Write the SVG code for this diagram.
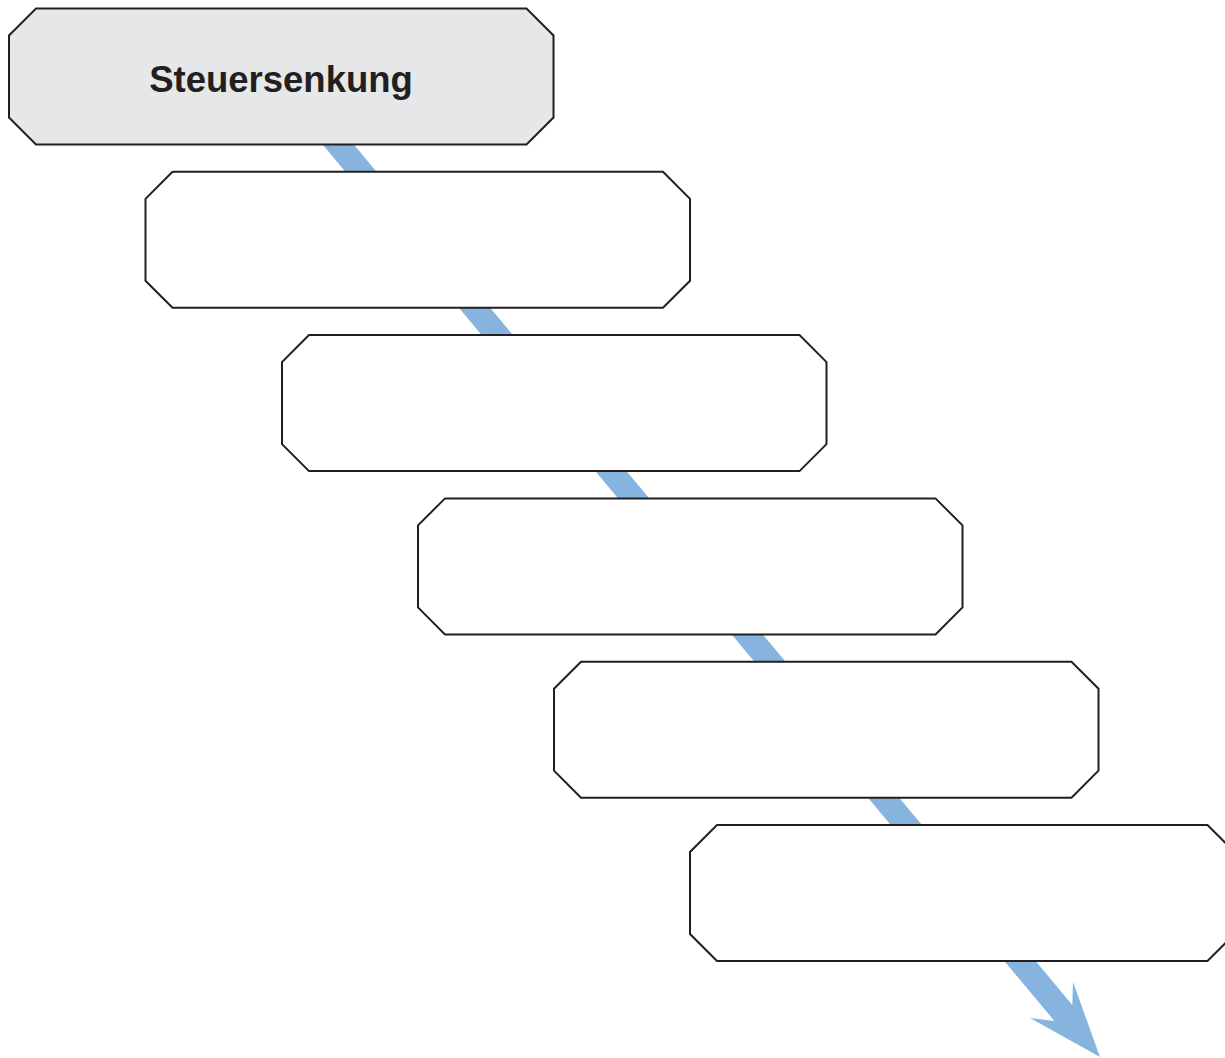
<svg xmlns="http://www.w3.org/2000/svg" width="1225" height="1058" viewBox="0 0 1225 1058">
<style>
.node{fill:#ffffff;stroke:#231f20;stroke-width:2;stroke-linejoin:miter}
.first{fill:#e6e7e8}
.lbl{font-family:"Liberation Sans",Arial,sans-serif;font-weight:bold;font-size:36.5px;fill:#231f20}
.conn{fill:#86b4de;stroke:none}
</style>
<defs>
<polygon id="oct" points="27,0 517.5,0 544.5,27 544.5,109 517.5,136 27,136 0,109 0,27"/>
</defs>
<rect width="1225" height="1058" fill="#ffffff"/>
<g id="connectors">
<polygon class="conn" points="265.4,76 296.6,76 1072.3,1005 1073,982 1100,1057 1030,1018 1054.4,1021"/>
</g>
<g id="node1">
<use href="#oct" class="node first" x="9" y="8.5"/>
<text class="lbl" x="281" y="92" text-anchor="middle">Steuersenkung</text>
</g>
<g id="node2"><use href="#oct" class="node" x="145.5" y="171.8"/></g>
<g id="node3"><use href="#oct" class="node" x="282" y="335.1"/></g>
<g id="node4"><use href="#oct" class="node" x="418" y="498.4"/></g>
<g id="node5"><use href="#oct" class="node" x="554" y="661.7"/></g>
<g id="node6"><use href="#oct" class="node" x="690" y="825"/></g>
</svg>
